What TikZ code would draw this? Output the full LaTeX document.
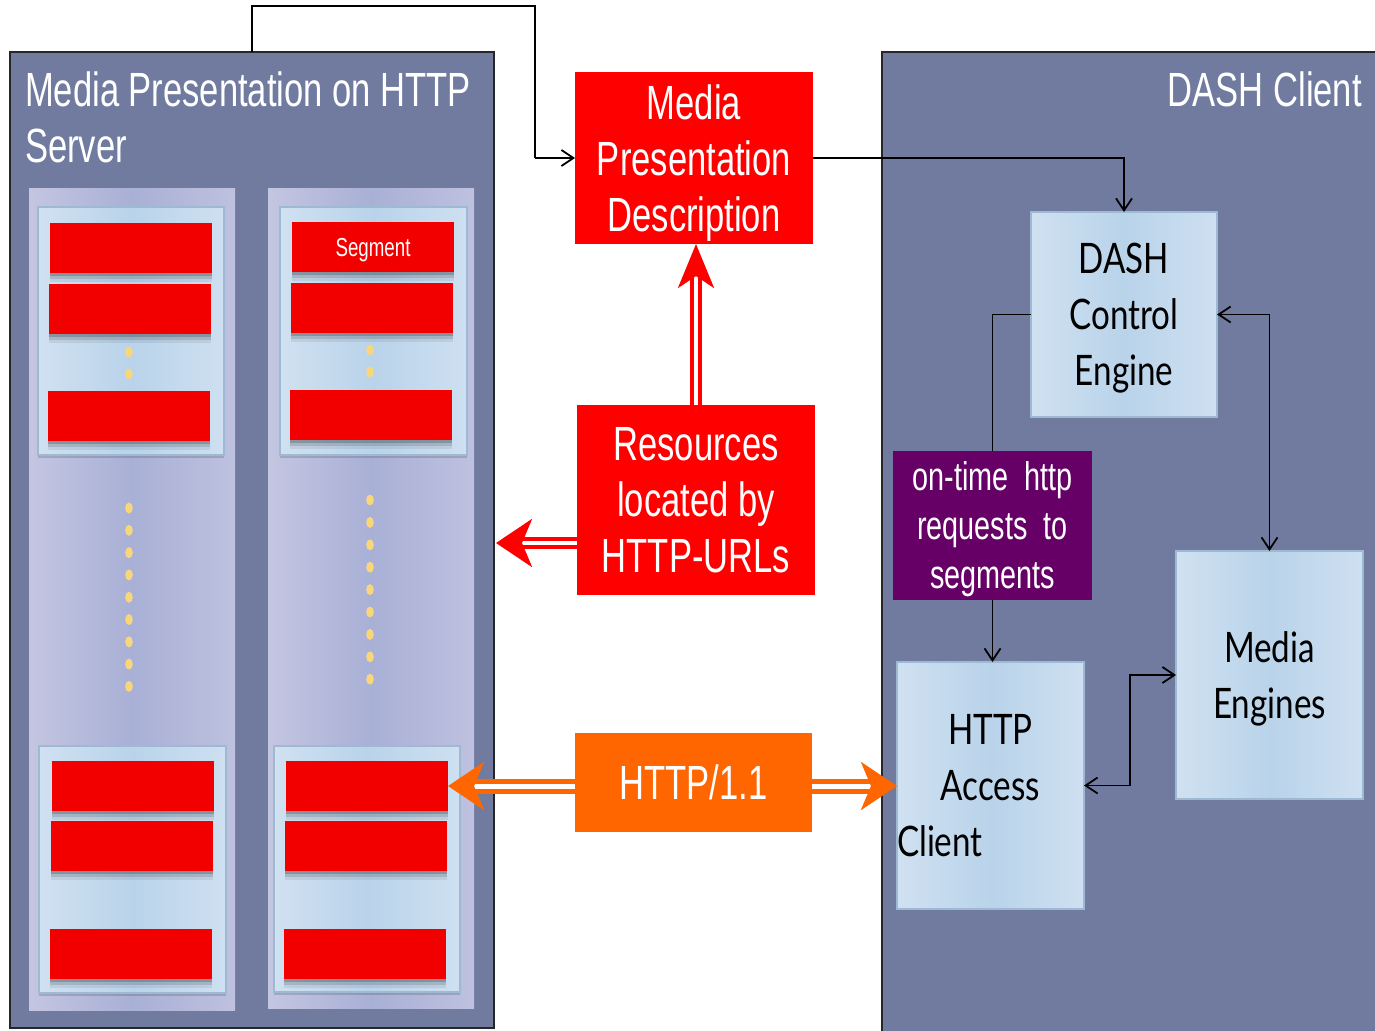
\documentclass[tikz,border=0pt]{standalone}
\usepackage{fontspec}
\setmainfont{Liberation Sans}
\newfontfamily\nar[FakeStretch=0.72]{Liberation Sans}
\newfontfamily\gill[FakeStretch=0.79]{Lato}
\usetikzlibrary{arrows.meta,shadows,calc}
\definecolor{panelc}{HTML}{717BA0}
\definecolor{colL}{HTML}{C4C6E1}
\definecolor{colM}{HTML}{A9B0D6}
\definecolor{colR}{HTML}{BEC1DF}
\definecolor{inL}{HTML}{D0E1F1}
\definecolor{inM}{HTML}{B9D3EA}
\definecolor{inR}{HTML}{CEE0F1}
\definecolor{inB}{HTML}{9DBAD2}
\definecolor{segred}{HTML}{F20000}
\definecolor{mred}{HTML}{FF0000}
\definecolor{orng}{HTML}{FF6600}
\definecolor{purp}{HTML}{660066}
\definecolor{dotc}{HTML}{F8D77C}
\tikzset{
  panel/.style={draw=black!85, line width=2.5pt, fill=panelc, inner sep=0pt, outer sep=0pt, anchor=north west},
  column/.style={left color=colL, right color=colR, middle color=colM, inner sep=0pt, outer sep=0pt, anchor=north west},
  inbox/.style={left color=inL, right color=inR, middle color=inM, draw=inB, line width=1.5pt, inner sep=0pt, outer sep=0pt, anchor=north west,
    drop shadow={shadow xshift=0pt, shadow yshift=-3pt, opacity=.15, fill=black}},
  segbox/.style={fill=segred, minimum width=162pt, minimum height=50pt, inner sep=0pt, outer sep=0pt, anchor=north west,
    drop shadow={shadow xshift=0pt, shadow yshift=-9pt, opacity=.07, fill=black},
    drop shadow={shadow xshift=0pt, shadow yshift=-6pt, opacity=.12, fill=black},
    drop shadow={shadow xshift=0pt, shadow yshift=-3pt, opacity=.18, fill=black}},
  lbox/.style={left color=inL, right color=inR, middle color=inM, draw=inB, line width=1.5pt, inner sep=0pt, outer sep=0pt,
    font=\gill\fontsize{42}{56}\selectfont, text=black, align=center, text depth=-5pt},
  nartext/.style={font=\nar\fontsize{48}{56}\selectfont, text=white},
  colbox/.style={inner sep=0pt, outer sep=0pt, nartext, align=center, text depth=0pt},
  dotst/.style={fill=dotc},
  conn/.style={draw=black, line width=1.8pt, -{Straight Barb[length=12pt,width=16pt]}},
  connb/.style={draw=black, line width=1.8pt, {Straight Barb[length=12pt,width=16pt]}-{Straight Barb[length=12pt,width=16pt]}},
  plain/.style={draw=black, line width=1.8pt},
  reddbl/.style={draw=mred, line width=4pt, double=white, double distance=4pt},
  orgdbl/.style={draw=orng, line width=5pt, double=white, double distance=5pt},
}
\begin{document}
\begin{tikzpicture}[x=1pt,y=-1pt]
\useasboundingbox (0,0) rectangle (1375,1030);
\fill[white] (0,0) rectangle (1375,1030);

% panels
\node[panel, minimum width=484pt, minimum height=976pt] (server) at (10,52) {};
\node[panel, minimum width=500pt, minimum height=990pt] (client) at (882,52) {};

\node[nartext, anchor=north west, align=left, inner sep=0pt] (servt) at (25,72) {Media Presentation on HTTP\\Server};
\node[nartext, anchor=north east, inner sep=0pt] (clit) at (1362,72) {DASH Client};

% columns
\node[column, minimum width=206pt, minimum height=822pt] (col1) at (29,188) {};
\node[column, minimum width=206pt, minimum height=820pt] (col2) at (268,188) {};

% inner boxes
\node[inbox, minimum width=186pt, minimum height=248pt] (i1t) at (38,207) {};
\node[inbox, minimum width=187pt, minimum height=248pt] (i2t) at (280,207) {};
\node[inbox, minimum width=187pt, minimum height=247pt] (i1b) at (39,746) {};
\node[inbox, minimum width=186pt, minimum height=246pt] (i2b) at (274,746) {};

% segments
\node[segbox] (s1t1) at (50,223) {};
\node[segbox] (s1t2) at (49,284) {};
\node[segbox] (s1t3) at (48,391) {};
\node[segbox, font=\nar\fontsize{26}{30}\selectfont, text=white, text depth=-4pt] (s2t1) at (292,222) {Segment};
\node[segbox] (s2t2) at (291,283) {};
\node[segbox] (s2t3) at (290,390) {};
\node[segbox] (s1b1) at (52,761) {};
\node[segbox] (s1b2) at (51,821) {};
\node[segbox] (s1b3) at (50,929) {};
\node[segbox] (s2b1) at (286,761) {};
\node[segbox] (s2b2) at (285,821) {};
\node[segbox] (s2b3) at (284,929) {};

% dots
\foreach \y in {352,374} \fill[dotst] (129,\y) ellipse (3.8 and 5.5);
\foreach \y in {350,372} \fill[dotst] (370,\y) ellipse (3.8 and 5.5);
\foreach \i in {0,...,8} {
  \fill[dotst] (129,508+22.3*\i) ellipse (3.8 and 5.5);
  \fill[dotst] (370,500+22.4*\i) ellipse (3.8 and 5.5);
}

% central boxes
\node[colbox, fill=mred, minimum width=238pt, minimum height=172pt] (mpd) at (694,158) {Media\\Presentation\\Description};
\node[colbox, fill=mred, minimum width=238pt, minimum height=190pt] (res) at (696,500) {Resources\\located by\\HTTP-URLs};
\node[colbox, fill=orng, minimum width=237pt, minimum height=99pt] (http) at (693.5,782.5) {HTTP/1.1};

% client boxes
\node[lbox, minimum width=186pt, minimum height=205pt] (dce) at (1124,314.5) {DASH\\Control\\Engine};
\node[lbox, minimum width=187pt, minimum height=248pt] (me) at (1269.5,675) {Media\\Engines};
\node[lbox, minimum width=187pt, minimum height=247pt, text width=187pt, text depth={}] (hac) at (990.5,785.5) {HTTP\\Access\\\makebox[\linewidth][l]{Client}};
\node[colbox, fill=purp, font=\nar\fontsize{40}{49}\selectfont, minimum width=199pt, minimum height=149pt] (req) at (992.5,525) {on-time\ \ http\\requests\ \ to\\segments};

% thin connectors
\coordinate (c1) at (252,6);
\coordinate (c2) at (535,6);
\coordinate (k1) at (1130,676);
\draw[plain] (server.north -| c1) -- (c1) -- (c2) -- (c2 |- mpd.west);
\draw[conn] (c2 |- mpd.west) -- (mpd.west);
\draw[conn] (mpd.east) -| (dce.north);
\draw[plain] (dce.west) -| (req.north);
\draw[conn] (req.south) -- (req.south |- hac.north);
\draw[connb] (dce.east) -| (me.north);
\draw[connb] (hac.east) -- (hac.east -| k1) |- (me.west);

% double arrows
\coordinate (rl) at (496,543);
\draw[reddbl, -{Stealth[length=44pt,width=36pt,inset=12pt]}] (res.north) -- (res.north |- mpd.south);
\draw[reddbl, -{Stealth[length=36pt,width=48pt,inset=10pt]}] (res.west |- rl) -- (rl);
\draw[orgdbl, -{Stealth[length=36pt,width=48pt,inset=10pt]}] (http.west |- s2b1.east) -- (s2b1.east);
\draw[orgdbl, -{Stealth[length=36pt,width=48pt,inset=10pt]}] (http.east |- s2b1.east) -- (hac.west |- s2b1.east);
\end{tikzpicture}
\end{document}
